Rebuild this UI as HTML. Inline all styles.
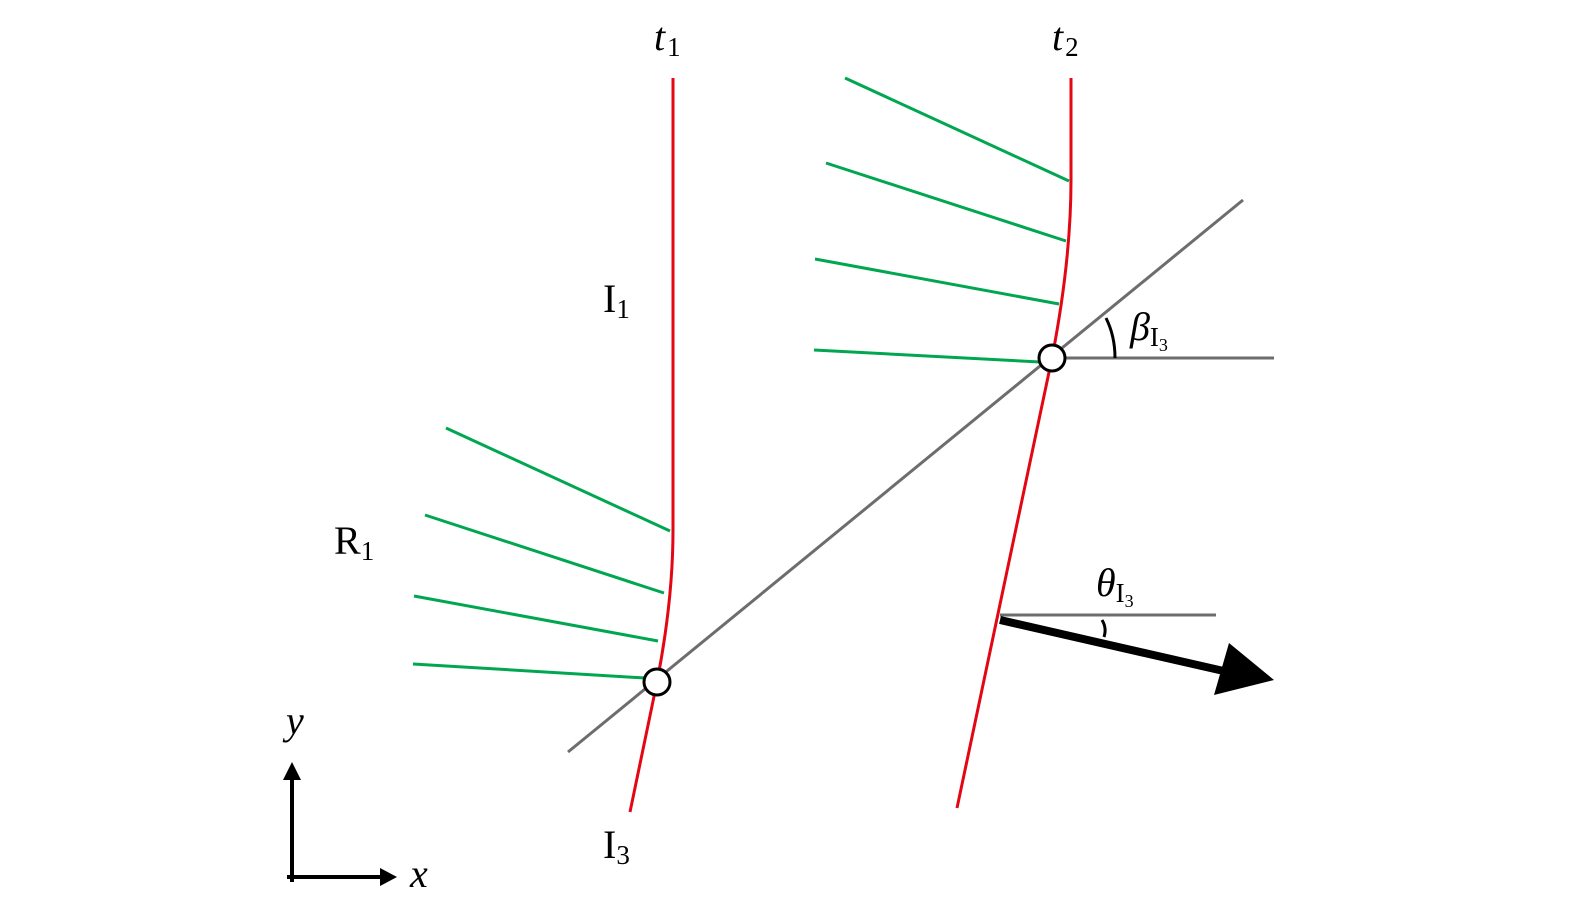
<!DOCTYPE html>
<html><head><meta charset="utf-8"><style>
html,body{margin:0;padding:0;background:#fff;}
svg text{font-family:"Liberation Serif",serif;font-size:40px;fill:#000;}
.s{font-size:27px;font-style:normal;}
</style></head><body>
<svg width="1575" height="915" viewBox="0 0 1575 915" xmlns="http://www.w3.org/2000/svg">
<g stroke="#00a650" stroke-width="3" fill="none">
<line x1="446" y1="428" x2="670" y2="531"/>
<line x1="425" y1="515" x2="664" y2="593"/>
<line x1="414" y1="596" x2="658" y2="641"/>
<line x1="413" y1="664" x2="645" y2="678"/>
<line x1="845" y1="78" x2="1069" y2="181"/>
<line x1="826" y1="163" x2="1066" y2="241"/>
<line x1="815" y1="259" x2="1059" y2="304"/>
<line x1="814" y1="350" x2="1040" y2="362"/>
</g>
<g stroke="#6d6d6d" stroke-width="3" fill="none">
<line x1="568" y1="752" x2="1243" y2="200"/>
<line x1="1052" y1="358" x2="1274" y2="358"/>
<line x1="1000" y1="615" x2="1216" y2="615"/>
</g>
<g stroke="#e30613" stroke-width="3" fill="none">
<path d="M673 78 L673 530 Q673 600 657 682 L630 812"/>
<path d="M1071 78 L1071 180 Q1071 260 1052 358 L957 808"/>
</g>
<g stroke="#000" fill="none">
<path d="M1106 318 Q1115 336 1115 358" stroke-width="3"/>
<path d="M1102 620 Q1107 628 1104 637" stroke-width="3"/>
<line x1="1000" y1="620" x2="1228" y2="672" stroke-width="8"/>
<line x1="292" y1="882" x2="292" y2="775" stroke-width="4"/>
<line x1="287" y1="877" x2="385" y2="877" stroke-width="4"/>
</g>
<polygon points="1274,680 1229,643 1214,695" fill="#000"/>
<polygon points="292,762 283,780 301,780" fill="#000"/>
<polygon points="397,877 380,868 380,886" fill="#000"/>
<g fill="#fff" stroke="#000" stroke-width="3">
<circle cx="657" cy="682" r="13"/>
<circle cx="1052" cy="358" r="13"/>
</g>
<text x="654" y="50" font-style="italic">t<tspan class="s" dy="6" dx="2">1</tspan></text>
<text x="1052" y="50" font-style="italic">t<tspan class="s" dy="6" dx="2">2</tspan></text>
<text x="603" y="312">I<tspan class="s" dy="6">1</tspan></text>
<text x="334" y="554">R<tspan class="s" dy="6">1</tspan></text>
<text x="603" y="858">I<tspan class="s" dy="6">3</tspan></text>
<text x="1130" y="340" font-style="italic">β<tspan class="s" dy="6">I<tspan font-size="18" dy="5">3</tspan></tspan></text>
<text x="1096" y="596" font-style="italic">θ<tspan class="s" dy="6">I<tspan font-size="18" dy="5">3</tspan></tspan></text>
<text x="286" y="734" font-style="italic">y</text>
<text x="410" y="887" font-style="italic">x</text>
</svg>
</body></html>
